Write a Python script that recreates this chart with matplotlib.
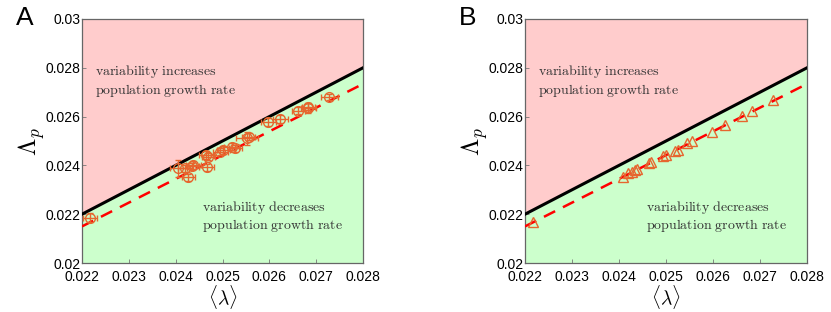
import matplotlib
matplotlib.use("Agg")
import matplotlib.pyplot as plt
import numpy as np

plt.rcParams['mathtext.fontset'] = 'cm'
plt.rcParams['font.family'] = ['Liberation Sans', 'DejaVu Sans']

# panel A: measured points with error bars
xa = [0.02217, 0.02406, 0.02420, 0.02427, 0.02438, 0.02435, 0.02466, 0.02465, 0.02470,
      0.02495, 0.02502, 0.02520, 0.02527, 0.02552, 0.02556, 0.02598, 0.02623, 0.02662,
      0.02683, 0.02683, 0.02728]
ya = [0.02186, 0.02388, 0.02388, 0.02351, 0.02402, 0.02396, 0.02392, 0.02443, 0.02436,
      0.02456, 0.02463, 0.02477, 0.02470, 0.02511, 0.02517, 0.02577, 0.02589, 0.02624,
      0.02634, 0.02640, 0.02682]
xerr_a = [0.00014, 0.00018, 0.00014, 0.00014, 0.00016, 0.00014, 0.00016, 0.00016, 0.00014,
          0.00016, 0.00014, 0.00016, 0.00014, 0.00024, 0.00014, 0.00016, 0.00016, 0.00014,
          0.00016, 0.00014, 0.00018]
yerr_a = [0.00018, 0.00034, 0.00014, 0.00014, 0.00018, 0.00014, 0.00014, 0.00016, 0.00014,
          0.00014, 0.00016, 0.00014, 0.00014, 0.00026, 0.00014, 0.00016, 0.00016, 0.00014,
          0.00020, 0.00014, 0.00012]

# panel B: model points
xb = [0.02218, 0.02408, 0.02420, 0.02427, 0.02434, 0.02438, 0.02464, 0.02468, 0.02494,
      0.02500, 0.02519, 0.02525, 0.02544, 0.02555, 0.02597, 0.02626, 0.02661, 0.02684,
      0.02728]
yb = [0.02169, 0.02354, 0.02368, 0.02374, 0.02381, 0.02386, 0.02409, 0.02415, 0.02439,
      0.02443, 0.02460, 0.02465, 0.02490, 0.02501, 0.02538, 0.02566, 0.02602, 0.02624,
      0.02668]

# reference lines
line_x = [0.022, 0.028]
ident_y = [0.022, 0.028]
fit_y = [0.0215, 0.02734]

xticks = [0.022, 0.023, 0.024, 0.025, 0.026, 0.027, 0.028]
xticklabels = ['0.022', '0.023', '0.024', '0.025', '0.026', '0.027', '0.028']
yticks = [0.02, 0.022, 0.024, 0.026, 0.028, 0.03]
yticklabels = ['0.02', '0.022', '0.024', '0.026', '0.028', '0.03']

pink = '#ffcccc'
green = '#ccffcc'
orange = '#e6662e'

fig = plt.figure(figsize=(8.31, 3.12), dpi=100)
axA = fig.add_axes([82/831, 49/312, 281/831, 244/312])
axB = fig.add_axes([525/831, 49/312, 282/831, 244/312])


def base(ax, letter):
    ax.fill_between(line_x, ident_y, [0.03, 0.03], color=pink, lw=0, zorder=0)
    ax.fill_between(line_x, [0.02, 0.02], ident_y, color=green, lw=0, zorder=0)
    ax.plot(line_x, ident_y, color='k', lw=2.2, zorder=3)
    ax.plot(line_x, fit_y, color='#ff0000', lw=1.8, ls=(0, (5, 3.5)), zorder=3)
    ax.set_xlim(0.022, 0.028)
    ax.set_ylim(0.02, 0.03)
    ax.set_xticks(xticks)
    ax.set_xticklabels(xticklabels)
    ax.set_yticks(yticks)
    ax.set_yticklabels(yticklabels)
    ax.tick_params(direction='in', length=3, width=0.6, color='#777777', labelsize=10)
    ax.tick_params(axis='x', pad=5)
    ax.tick_params(axis='y', pad=1)
    for s in ax.spines.values():
        s.set_color('#666666')
        s.set_linewidth(0.9)
    ax.set_xlabel(r'$\langle\lambda\rangle$', fontsize=14, labelpad=-1)
    ax.set_ylabel(r'$\Lambda_p$', fontsize=18, labelpad=-1)
    ax.text(0.02228, 0.02818, '$\\mathrm{variability\\ increases}$\n$\\mathrm{population\\ growth\\ rate}$',
            fontsize=10, color='#333333', va='top', ha='left', linespacing=1.1)
    ax.text(0.02457, 0.02262, '$\\mathrm{variability\\ decreases}$\n$\\mathrm{population\\ growth\\ rate}$',
            fontsize=10, color='#333333', va='top', ha='left', linespacing=1.1)
    ax.text(-0.235, 1.055, letter, transform=ax.transAxes, fontsize=19, va='top', ha='left')


base(axA, 'A')
axA.errorbar(xa, ya, xerr=xerr_a, yerr=yerr_a, fmt='o', ms=7, mfc='none', mec=orange,
             ecolor=orange, mew=1, elinewidth=1, capsize=2.5, capthick=1, zorder=4)

base(axB, 'B')
axB.plot(xb, yb, '^', ms=7.5, mfc='none', mec=orange, mew=1, zorder=4)

fig.savefig('out.png', dpi=100)
